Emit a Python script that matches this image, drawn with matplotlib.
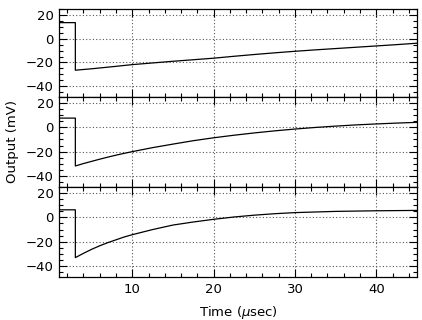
import numpy as np
import matplotlib
matplotlib.use("Agg")
import matplotlib.pyplot as plt
from matplotlib.ticker import MultipleLocator

# values (time in usec, output in mV)
t_top = [1, 3, 3, 5, 7.5, 10, 12.5, 15, 17.5, 20, 22.5, 25, 27.5, 30, 32.5, 35, 37.5, 40, 42.5, 45]
v_top = [13.5, 13.5, -26.5, -25.3, -23.6, -21.8, -20.4, -19.0, -17.7, -16.4, -14.8, -13.3,
         -11.9, -10.6, -9.4, -8.3, -7.2, -6.1, -5.0, -3.8]

t_mid = [1, 3, 3, 4, 5, 6, 7, 8, 9, 10, 12.5, 15, 17.5, 20, 22.5, 25, 27.5, 30, 32.5, 35,
         37.5, 40, 42.5, 45]
v_mid = [7.6, 7.6, -31.8, -29.8, -28.0, -26.2, -24.5, -22.9, -21.4, -20.0, -16.7, -13.8,
         -11.0, -8.6, -6.5, -4.6, -2.9, -1.4, -0.1, 1.0, 2.0, 2.8, 3.5, 4.1]

t_bot = [1, 3, 3, 4, 5, 6, 7, 8, 9, 10, 12.5, 15, 17.5, 20, 22.5, 25, 27.5, 30, 35, 40, 45]
v_bot = [6.2, 6.2, -33.0, -29.5, -26.2, -23.3, -20.7, -18.4, -16.1, -14.2, -10.0, -6.3,
         -3.8, -1.6, 0.3, 1.8, 3.0, 3.9, 4.9, 5.4, 5.7]

series = [(t_top, v_top), (t_mid, v_mid), (t_bot, v_bot)]

plt.rcParams["font.family"] = ["DejaVu Sans"]
plt.rcParams["font.size"] = 9.5

fig = plt.figure(figsize=(4.22, 3.2), dpi=100)
left, width = 0.14, 0.848
bottoms = [0.697, 0.416, 0.134]
heights = [0.275, 0.281, 0.282]

for i, (t, v) in enumerate(series):
    ax = fig.add_axes([left, bottoms[i], width, heights[i]])
    ax.plot(t, v, color="black", lw=0.9)
    ax.set_xlim(1, 45)
    ax.set_ylim(-49, 25)
    ax.xaxis.set_major_locator(MultipleLocator(10))
    ax.xaxis.set_minor_locator(MultipleLocator(2))
    ax.yaxis.set_major_locator(MultipleLocator(20))
    ax.yaxis.set_minor_locator(MultipleLocator(5))
    ax.tick_params(which="both", direction="in", top=True, right=True,
                   color="black", width=0.8)
    ax.tick_params(which="major", length=6, pad=4)
    ax.tick_params(which="minor", length=3)
    ax.grid(True, which="major", linestyle=(0, (1, 2)), color="#555555", lw=0.8)
    for s in ax.spines.values():
        s.set_linewidth(0.9)
    if i < 2:
        ax.set_xticklabels([])
    else:
        ax.set_xlabel("Time ($\\mu$sec)", labelpad=6)
    if i == 1:
        ax.set_ylabel("Output (mV)", labelpad=5)

fig.savefig("out.png", dpi=100)
